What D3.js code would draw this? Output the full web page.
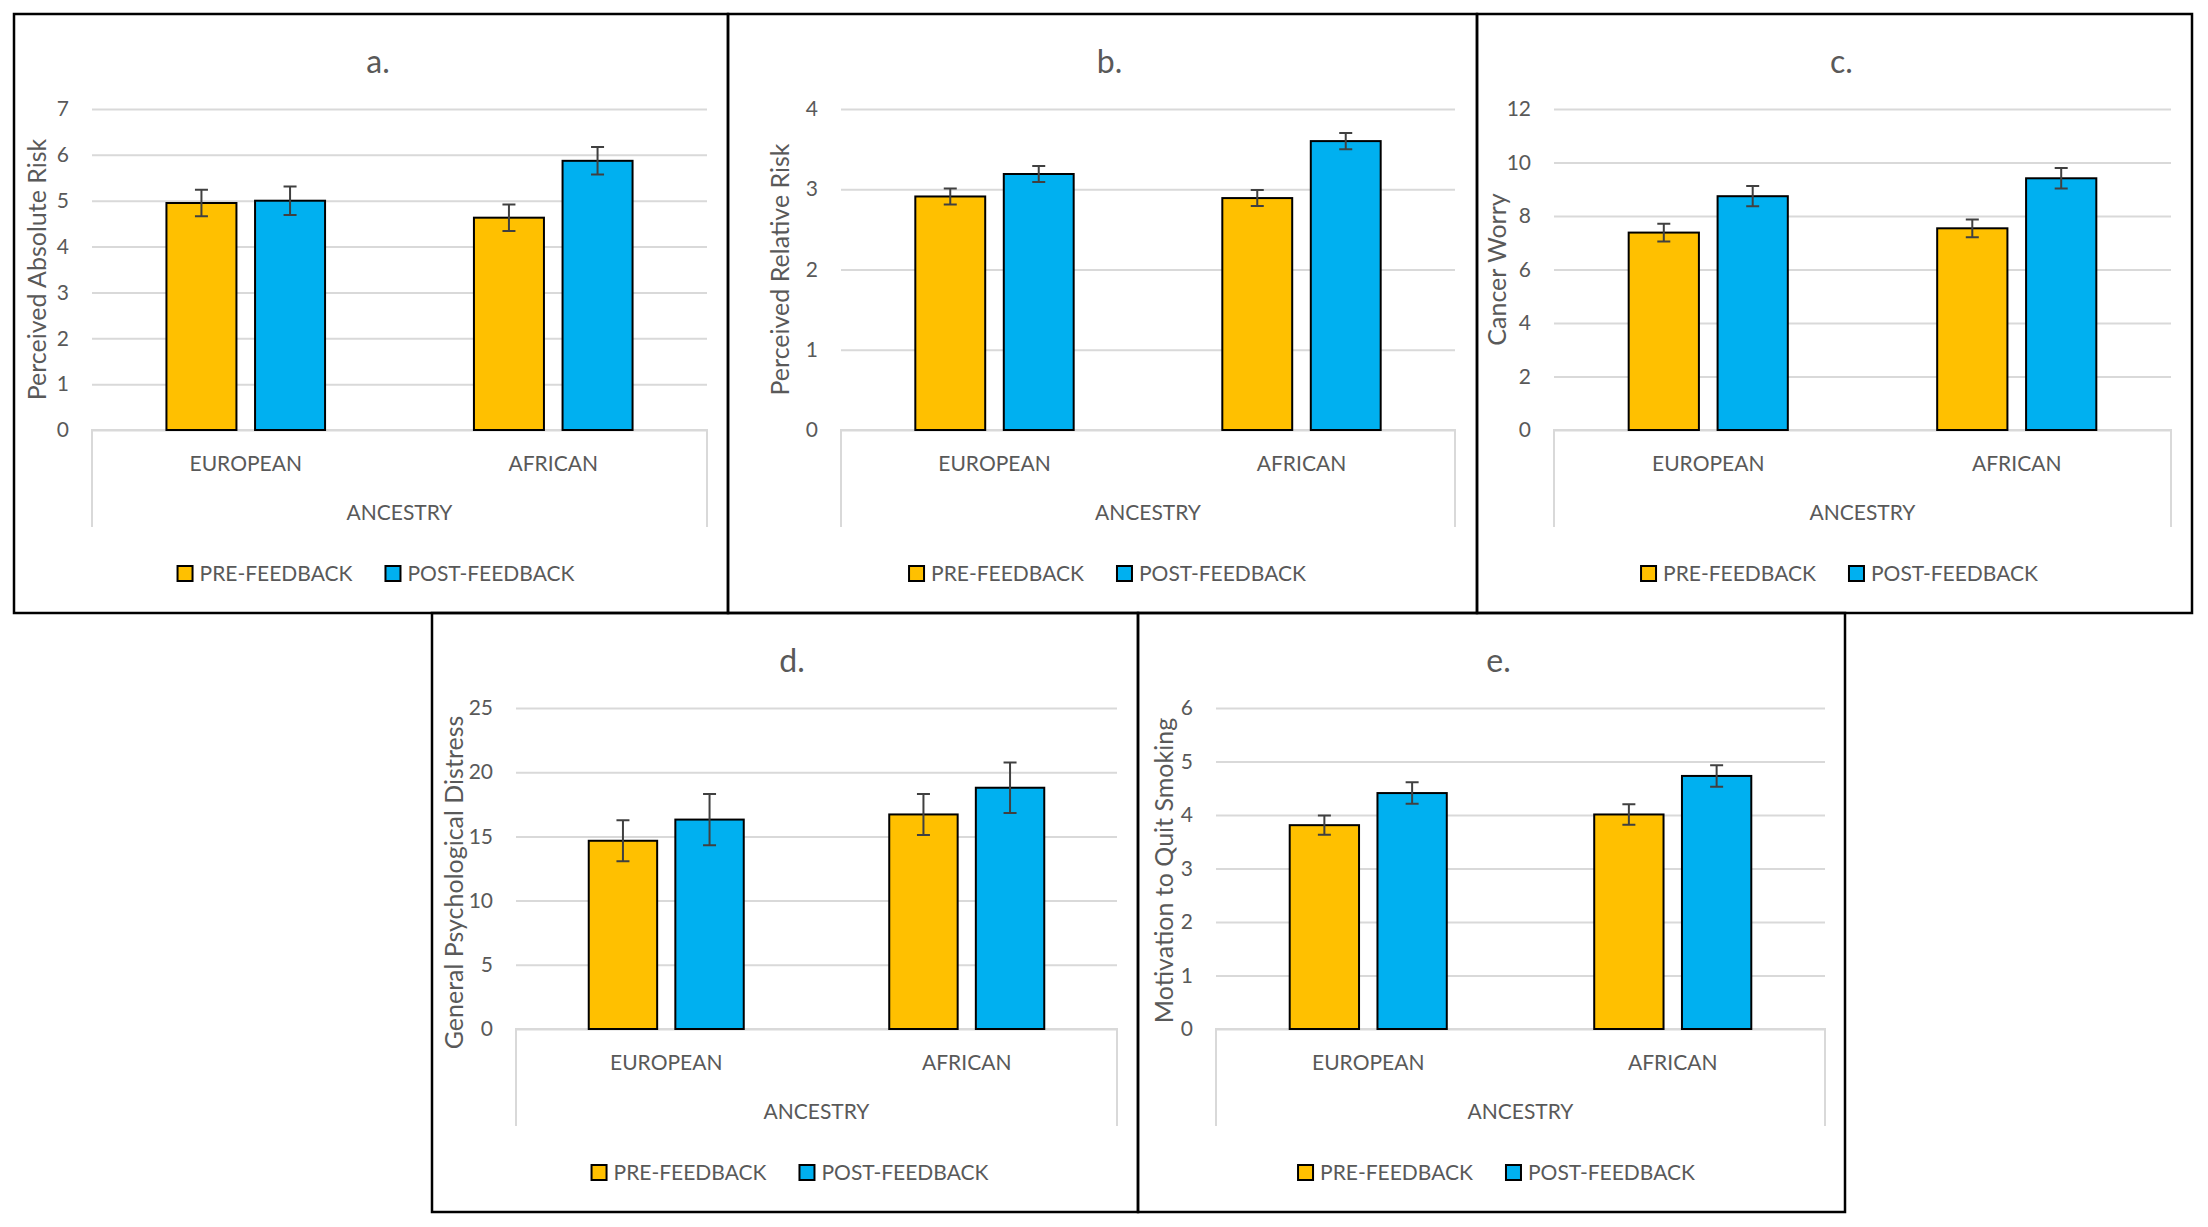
<!DOCTYPE html>
<html lang="en">
<head>
	<meta charset="UTF-8">
	<title>Pre / post feedback by ancestry</title>
	<script type="text/javascript" src="https://cdn.jsdelivr.net/npm/d3@7"></script>
	<style>
		body { margin: 0; background: #fff; }
		text { font-family: Lato, "Open Sans", sans-serif; fill: #595959; }
		.grid line { stroke: #d9d9d9; stroke-width: 2px; }
		.bar { stroke: #000; stroke-width: 2px; }
		.err { stroke: #404040; stroke-width: 2px; fill: none; }
		.frame { fill: none; stroke: #000; stroke-width: 2.5px; }
	</style>
</head>
<body>
<script type="text/javascript">

	// data
	var panelTitles = ['a.', 'b.', 'c.', 'd.', 'e.'];
	var yTitles = ['Perceived Absolute Risk', 'Perceived Relative Risk', 'Cancer Worry',
		'General Psychological Distress', 'Motivation to Quit Smoking'];
	var yTicks = [
		[0, 1, 2, 3, 4, 5, 6, 7],
		[0, 1, 2, 3, 4],
		[0, 2, 4, 6, 8, 10, 12],
		[0, 5, 10, 15, 20, 25],
		[0, 1, 2, 3, 4, 5, 6]
	];
	var categories = ['EUROPEAN', 'AFRICAN'];
	var axisTitle = 'ANCESTRY';
	var series = ['PRE-FEEDBACK', 'POST-FEEDBACK'];
	var preFeedback  = [[4.95, 4.63], [2.91, 2.89], [7.38, 7.54], [14.66, 16.71], [3.81, 4.01]];
	var postFeedback = [[5.00, 5.87], [3.19, 3.60], [8.74, 9.41], [16.31, 18.79], [4.41, 4.73]];
	var preError  = [[0.29, 0.29], [0.10, 0.10], [0.33, 0.33], [1.60, 1.60], [0.18, 0.19]];
	var postError = [[0.31, 0.30], [0.10, 0.10], [0.38, 0.38], [2.00, 1.97], [0.20, 0.20]];
	var colors = ['#FFC000', '#00B0F0'];

	// panel boxes on the page
	var layout = [
		{ x0: 14,   x1: 728,  y0: 14,  plotL: 92,   plotR: 707,  titleX: 38,   titleDy: 0 },
		{ x0: 728,  x1: 1477, y0: 14,  plotL: 841,  plotR: 1455, titleX: 781,  titleDy: 0 },
		{ x0: 1477, x1: 2192, y0: 14,  plotL: 1554, plotR: 2171, titleX: 1498, titleDy: 0 },
		{ x0: 432,  x1: 1138, y0: 613, plotL: 516,  plotR: 1117, titleX: 455,  titleDy: 14 },
		{ x0: 1138, x1: 1845, y0: 613, plotL: 1216, plotR: 1825, titleX: 1165, titleDy: 2 }
	];
	var panelH = 599;

	var svg = d3.select('body').append('svg')
		.attr('width', 2208)
		.attr('height', 1227);

	layout.forEach(function (L, i) {
		var g = svg.append('g');
		var top = L.y0 + 95, bottom = L.y0 + 416;
		var cx = (L.x0 + L.x1) / 2;

		var ticks = yTicks[i];
		var y = d3.scaleLinear()
			.domain([0, ticks[ticks.length - 1]])
			.range([bottom, top]);

		var x0 = d3.scaleBand().domain(categories).range([L.plotL, L.plotR]);
		var x1 = d3.scaleBand().domain(series).range([0, x0.bandwidth()])
			.paddingInner(0.21).paddingOuter(0.84);

		// gridlines + tick labels
		g.append('g')
			.attr('class', 'grid')
			.attr('transform', 'translate(' + L.plotL + ',0)')
			.call(d3.axisLeft(y).tickValues(ticks).tickFormat(d3.format('d'))
				.tickSize(-(L.plotR - L.plotL)).tickPadding(23))
			.call(function (a) {
				a.select('.domain').remove();
				a.selectAll('text').style('font-size', '21px').attr('fill', '#595959')
					.style('font-family', 'Lato, sans-serif');
			});

		// category box under the plot
		g.append('path')
			.attr('d', 'M' + L.plotL + ',' + (bottom + 97) + 'V' + bottom + 'H' + L.plotR + 'V' + (bottom + 97))
			.attr('fill', 'none')
			.attr('stroke', '#d9d9d9')
			.attr('stroke-width', 2);

		var rows = categories.map(function (c, k) {
			return [
				{ cat: c, s: series[0], v: preFeedback[i][k], e: preError[i][k] },
				{ cat: c, s: series[1], v: postFeedback[i][k], e: postError[i][k] }
			];
		});
		var flat = d3.merge(rows);

		g.selectAll('.bar')
			.data(flat)
			.enter().append('rect')
			.attr('class', 'bar')
			.attr('x', function (d) { return x0(d.cat) + x1(d.s); })
			.attr('width', x1.bandwidth())
			.attr('y', function (d) { return y(d.v); })
			.attr('height', function (d) { return y(0) - y(d.v); })
			.attr('fill', function (d) { return colors[series.indexOf(d.s)]; });

		// error bars
		g.selectAll('.err')
			.data(flat)
			.enter().append('path')
			.attr('class', 'err')
			.attr('d', function (d) {
				var mx = x0(d.cat) + x1(d.s) + x1.bandwidth() / 2;
				var hi = y(d.v + d.e), lo = y(d.v - d.e);
				return 'M' + (mx - 6.5) + ',' + hi + 'H' + (mx + 6.5) +
					'M' + mx + ',' + hi + 'V' + lo +
					'M' + (mx - 6.5) + ',' + lo + 'H' + (mx + 6.5);
			});

		// category labels
		g.selectAll('.cat')
			.data(categories)
			.enter().append('text')
			.attr('x', function (d) { return x0(d) + x0.bandwidth() / 2; })
			.attr('y', bottom + 41)
			.attr('text-anchor', 'middle')
			.style('font-size', '21px')
			.text(function (d) { return d; });

		g.append('text')
			.attr('x', (L.plotL + L.plotR) / 2)
			.attr('y', bottom + 90)
			.attr('text-anchor', 'middle')
			.style('font-size', '21px')
			.text(axisTitle);

		// panel letter
		g.append('text')
			.attr('x', cx + 7)
			.attr('y', L.y0 + 59)
			.attr('text-anchor', 'middle')
			.style('font-size', '32px')
			.text(panelTitles[i]);

		// y title
		g.append('text')
			.attr('transform', 'translate(' + (L.titleX + 8) + ',' + ((top + bottom) / 2 + L.titleDy) + ') rotate(-90)')
			.attr('text-anchor', 'middle')
			.style('font-size', '25px')
			.text(yTitles[i]);

		// legend, centred on the panel
		var leg = g.append('g');
		var off = 0;
		series.forEach(function (s, k) {
			var item = leg.append('g').attr('transform', 'translate(' + off + ',0)');
			item.append('rect')
				.attr('x', 0).attr('y', L.y0 + 552)
				.attr('width', 15).attr('height', 15)
				.attr('fill', colors[k])
				.attr('stroke', '#000').attr('stroke-width', 2);
			var t = item.append('text')
				.attr('x', 22).attr('y', L.y0 + 567)
				.style('font-size', '21px')
				.text(s);
			off += 22 + t.node().getComputedTextLength() + 33;
		});
		var legW = off - 33;
		leg.attr('transform', 'translate(' + (cx + 5 - legW / 2) + ',0)');

		// frame
		g.append('rect')
			.attr('class', 'frame')
			.attr('x', L.x0).attr('y', L.y0)
			.attr('width', L.x1 - L.x0).attr('height', panelH);
	});

</script>
</body>
</html>
